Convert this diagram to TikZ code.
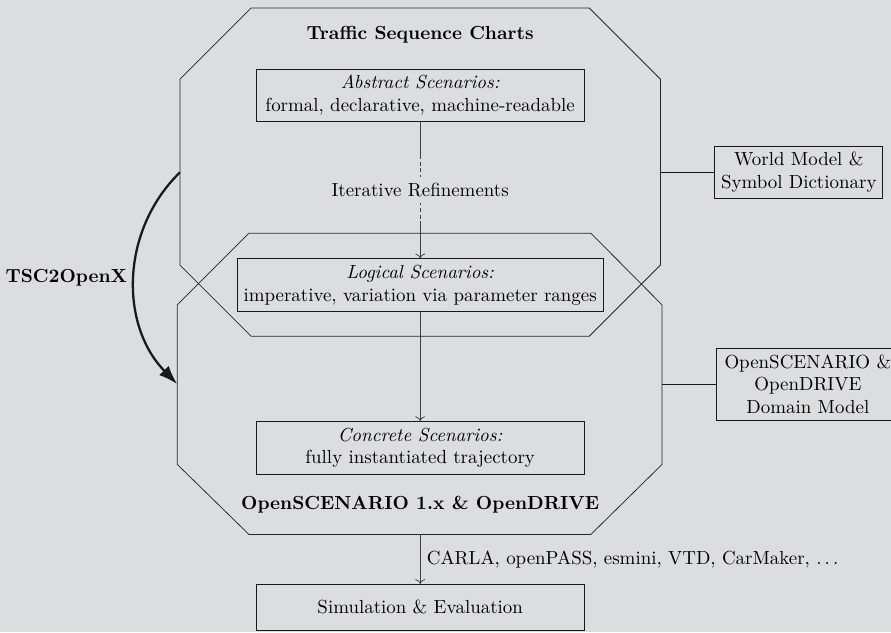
\documentclass[tikz,border=0pt]{standalone}
\usetikzlibrary{arrows.meta}
\usetikzlibrary{positioning}

\definecolor{paper}{RGB}{220,221,223}

\begin{document}
\begin{tikzpicture}[
	box/.style={draw, black!90, text=black, align=center},
	octo/.style={draw, black!85, line join=miter},
	flow/.style={->, black!75},
	]

	%background
	\fill[paper] (0,0) rectangle (16.54,-11.74);
	\useasboundingbox (0,0) rectangle (16.54,-11.74);

	%traffic sequence charts
	\draw[octo] (4.66,-0.15) -- (10.94,-0.15) -- (12.26,-1.47) -- (12.26,-4.92) -- (10.94,-6.24) -- (4.66,-6.24) -- (3.34,-4.92) -- (3.34,-1.47) -- cycle;
	\coordinate (tscw) at (3.34,-3.20);
	\coordinate (tsce) at (12.26,-3.20);
	\node[font=\bfseries] (tsc) at (7.80,-0.65) {Traffic Sequence Charts};

	%openscenario and opendrive
	\draw[octo] (4.62,-4.33) -- (10.97,-4.33) -- (12.29,-5.66) -- (12.29,-8.62) -- (10.97,-9.92) -- (4.62,-9.92) -- (3.29,-8.62) -- (3.29,-5.66) -- cycle;
	\coordinate (oscw) at (3.29,-7.13);
	\coordinate (osce) at (12.29,-7.13);
	\coordinate (oscs) at (7.80,-9.92);
	\node[font=\bfseries] (osc) at (7.80,-9.36) {OpenSCENARIO 1.x \& OpenDRIVE};

	%scenario levels
	\node[box, minimum width=6.09cm] (abs) at (7.80,-1.77) {\textit{Abstract Scenarios:}\\formal, declarative, machine-readable};
	\node[box] (log) at (7.80,-5.29) {\textit{Logical Scenarios:}\\imperative, variation via parameter ranges};
	\node[box, minimum width=6.09cm] (con) at (7.80,-8.31) {\textit{Concrete Scenarios:}\\fully instantiated trajectory};
	\node[box, minimum width=6.09cm, minimum height=0.85cm] (sim) at (7.80,-11.27) {Simulation \& Evaluation};

	%refinements
	\coordinate (ira) at (7.80,-2.88);
	\coordinate (irb) at (7.80,-4.18);
	\draw[flow, -] (abs) -- (ira);
	\draw[flow, -, dash pattern=on 2pt off 1.5pt] (ira) -- node[fill=paper, text=black] (ir) {Iterative Refinements} (irb);
	\draw[flow] (irb) -- (log);
	\draw[flow] (log) -- (con);
	\draw[flow] (oscs) -- node[right, text=black] (tools) {CARLA, openPASS, esmini, VTD, CarMaker, $\ldots$} (sim);

	%models
	\node[box, right=1cm of tsce] (wm) {World Model \&\\Symbol Dictionary};
	\draw[black!90] (tsce) -- (wm);
	\node[box, right=1cm of osce, minimum width=3.4cm] (dm) {OpenSCENARIO \&\\OpenDRIVE\\Domain Model};
	\draw[black!90] (osce) -- (dm);

	%translation
	\draw[very thick, black!90, -{Latex[length=10pt, width=7pt]}] (tscw) to[bend right=45] node[left, text=black] (tr) {\textbf{TSC2OpenX}} (oscw);

\end{tikzpicture}
\end{document}
